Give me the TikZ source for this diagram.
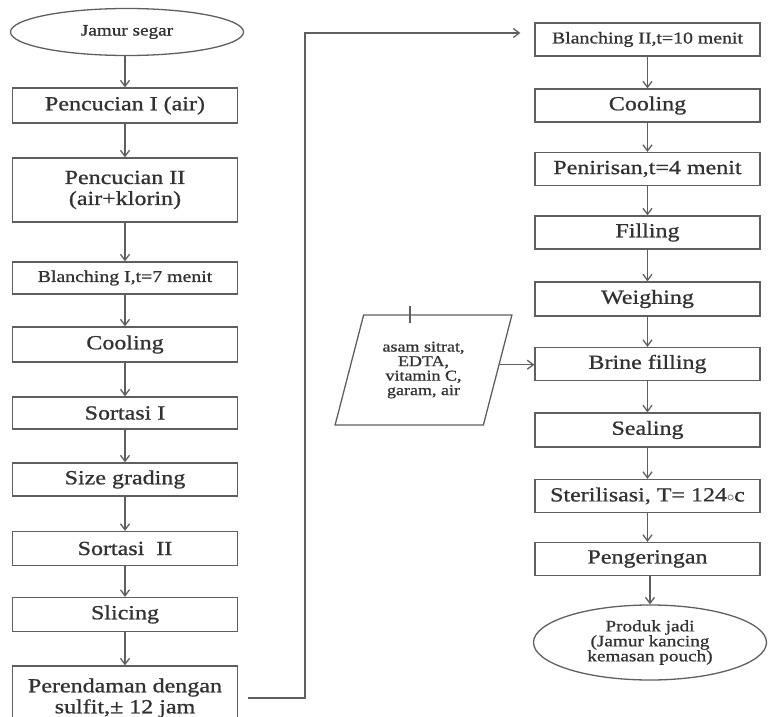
\documentclass[tikz,border=0pt]{standalone}
\usepackage{fontspec}
\setmainfont{Liberation Serif}[FakeStretch=1.2,FakeBold=0.9]
\usepackage{tikz}
\usetikzlibrary{shapes.geometric,arrows.meta,positioning}
\definecolor{garis}{RGB}{95, 95, 95}
\definecolor{teks}{RGB}{50, 50, 50}

\tikzset{
    proses/.style={
        draw=garis,
        line width=1.3pt,
        text=teks,
        minimum width=225pt,
        minimum height=33pt,
        inner sep=0pt,
        align=center,
        font=\fontsize{20}{21}\selectfont
    },
    kecil/.style={font=\fontsize{16.5}{18}\selectfont},
    terminal/.style={
        ellipse,
        draw=garis,
        line width=1.3pt,
        text=teks,
        minimum width=233pt,
        inner sep=0pt,
        align=center,
        font=\fontsize{16}{15}\selectfont
    },
    alur/.style={draw=garis, line width=1.3pt, -{Straight Barb[length=6pt,width=9pt]}}
}

\begin{document}
\begin{tikzpicture}[x=1pt,y=-1pt]
\useasboundingbox (0,0) rectangle (769,717);

% kolom kiri
\node [terminal, minimum height=47pt] (jamur) at (127,32) {Jamur segar};
\node [proses, minimum height=35pt] (cuci1) at (125,105.5) {Pencucian I (air)};
\node [proses, minimum height=64pt] (cuci2) at (125,190) {Pencucian II\\(air+klorin)};
\node [proses, kecil, minimum height=32pt] (blanch1) at (125,278) {Blanching I,t=7 menit};
\node [proses, minimum height=35pt] (dingin1) at (125,344.5) {Cooling};
\node [proses, minimum height=32pt] (sortasi1) at (125,413) {Sortasi I};
\node [proses] (grading) at (125,479.5) {Size grading};
\node [proses, minimum height=34pt] (sortasi2) at (125,548.5) {Sortasi~ II};
\node [proses, minimum height=34pt] (slicing) at (125,614.5) {Slicing};
\node [proses, minimum height=64pt] (rendam) at (125,698) {Perendaman dengan\\sulfit,± 12 jam};

% kolom kanan
\node [proses, kecil] (blanch2) at (647.5,39.5) {Blanching II,t=10 menit};
\node [proses] (dingin2) at (647.5,105.5) {Cooling};
\node [proses] (tiris) at (647.5,169) {Penirisan,t=4 menit};
\node [proses] (isi) at (647.5,232.5) {Filling};
\node [proses, minimum height=34pt] (timbang) at (647.5,299) {Weighing};
\node [proses] (brine) at (647.5,364) {Brine filling};
\node [proses, minimum height=34pt] (segel) at (647.5,430) {Sealing};
\node [proses] (steril) at (647.5,496) {Sterilisasi, T= 124$\scriptstyle\circ$c};
\node [proses] (kering) at (647.5,559) {Pengeringan};
\node [terminal, minimum height=75pt] (produk) at (650,642.5) {Produk jadi\\(Jamur kancing\\kemasan pouch)};

% bahan tambahan
\node [
    trapezium,
    trapezium left angle=71,
    trapezium right angle=109,
    trapezium stretches=true,
    draw=garis,
    line width=1.3pt,
    minimum width=177pt,
    minimum height=110pt,
    inner sep=0pt,
    text=teks,
    align=center,
    font=\fontsize{15}{14.5}\selectfont
] (bahan) at (423.5,370) {asam sitrat,\\EDTA,\\vitamin C,\\garam, air};
\coordinate (tanda) at (bahan.center |- bahan.north);
\draw [draw=garis, line width=1.3pt] ([xshift=-13.5pt,yshift=8pt]tanda) -- ([xshift=-13.5pt,yshift=-9pt]tanda);

\foreach \a/\b in {jamur/cuci1, cuci1/cuci2, cuci2/blanch1, blanch1/dingin1, dingin1/sortasi1,
    sortasi1/grading, grading/sortasi2, sortasi2/slicing, slicing/rendam,
    blanch2/dingin2, dingin2/tiris, tiris/isi, isi/timbang, timbang/brine,
    brine/segel, segel/steril, steril/kering, kering/produk}
    \draw [alur] (\b.north |- \a.south) -- (\b.north);

\draw [alur] (bahan.4) -- (bahan.4 -| brine.west);

\coordinate (tikungan) at (305,33);
\draw [alur, shorten <=10pt, shorten >=14pt] (rendam.east) -| (tikungan) -- (tikungan -| blanch2.west);
\end{tikzpicture}
\end{document}
